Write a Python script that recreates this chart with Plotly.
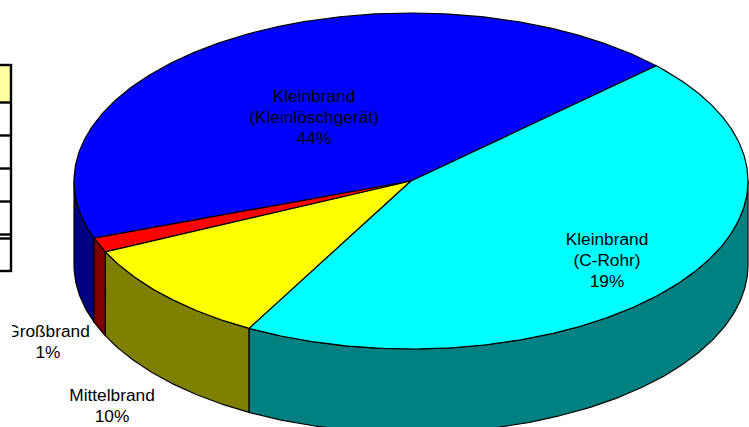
import numpy as np
import plotly.graph_objects as go

# Data (drawn share of the pie, and the printed labels)
categories = ["Kleinbrand<br>(Kleinlöschgerät)", "Großbrand", "Mittelbrand", "Kleinbrand<br>(C-Rohr)"]
drawn_share = [43.5, 1.4, 10.1, 45.0]
printed_pct = ["44%", "1%", "10%", "19%"]

top_colors = ["#0000FF", "#FF0000", "#FFFF00", "#00FFFF"]
wall_colors = ["#000080", "#800000", "#808000", "#008080"]
label_x = [314, 48, 112, 607]
label_first_y = [98, 333, 397, 241]
LINE_STEP = 21

CX, CY, RX, RY, DEPTH, START = 411, 181, 337, 168, 84, 43.3
FONT = dict(family="Liberation Sans, Arial, sans-serif", size=17.3, color="#000000")


def ell(deg, dy=0):
    a = np.radians(deg)
    return CX + RX * np.cos(a), CY - RY * np.sin(a) + dy


fig = go.Figure()


def poly(xs, ys, color):
    fig.add_trace(go.Scatter(x=list(xs), y=list(ys), mode="lines", fill="toself", fillcolor=color,
                             line=dict(color="#000000", width=1.2), hoverinfo="skip", showlegend=False))


# slice angle spans from the values
total = sum(drawn_share)
edges = START + np.cumsum([0] + drawn_share) * 360 / total

# side walls: only the part of each slice on the front half (180..360 deg)
for a0, a1, wc in zip(edges[:-1], edges[1:], wall_colors):
    lo, hi = max(a0, 180), min(a1, 360)
    if hi <= lo:
        continue
    t = np.linspace(lo, hi, max(int(hi - lo) * 2, 2))
    xt, yt = ell(t)
    xb, yb = ell(t[::-1], DEPTH)
    poly(np.r_[xt, xb, xt[0]], np.r_[yt, yb, yt[0]], wc)

# top faces
for a0, a1, tc in zip(edges[:-1], edges[1:], top_colors):
    t = np.linspace(a0, a1, max(int(a1 - a0) * 2, 2))
    xt, yt = ell(t)
    poly(np.r_[CX, xt, CX], np.r_[CY, yt, CY], tc)

# labels, one text per printed line so that the line spacing can follow the reference
tx, ty, tt = [], [], []
for c, p, x, y in zip(categories, printed_pct, label_x, label_first_y):
    for i, line in enumerate(c.split("<br>") + [p]):
        tx.append(x)
        ty.append(y + i * LINE_STEP)
        tt.append(line)
fig.add_trace(go.Scatter(x=tx, y=ty, mode="text", text=tt, textposition="middle center", textfont=FONT,
                         hoverinfo="skip", showlegend=False, cliponaxis=True))

# fragment of a table at the left edge, which also cuts off the "G" of Großbrand
table_rows = [65, 102.5, 135.5, 168.5, 201.5, 234.5, 238.5, 271]
shapes = [dict(type="rect", x0=-5, x1=12, y0=300, y1=360, fillcolor="#FFFFFF", line_width=0, layer="above"),
          dict(type="rect", x0=-5, x1=11, y0=table_rows[0], y1=table_rows[1], fillcolor="#FFFFA0",
               line_width=0, layer="below")]
for y in table_rows:
    shapes.append(dict(type="line", x0=0, x1=12, y0=y, y1=y, line=dict(color="#000000", width=2.4), layer="above"))
shapes.append(dict(type="line", x0=11, x1=11, y0=table_rows[0] - 1, y1=table_rows[-1] + 1,
                   line=dict(color="#000000", width=2.4), layer="above"))

fig.update_layout(
    width=749, height=427, margin=dict(l=0, r=0, t=0, b=0), autosize=False,
    paper_bgcolor="#FFFFFF", plot_bgcolor="#FFFFFF", showlegend=False, shapes=shapes,
    xaxis=dict(range=[0, 749], visible=False, fixedrange=True),
    yaxis=dict(range=[427, 0], visible=False, fixedrange=True),
)
fig.write_html("out.html", config=dict(displayModeBar=False),
               post_script="document.body.style.margin='0';document.documentElement.style.overflow='hidden';")
